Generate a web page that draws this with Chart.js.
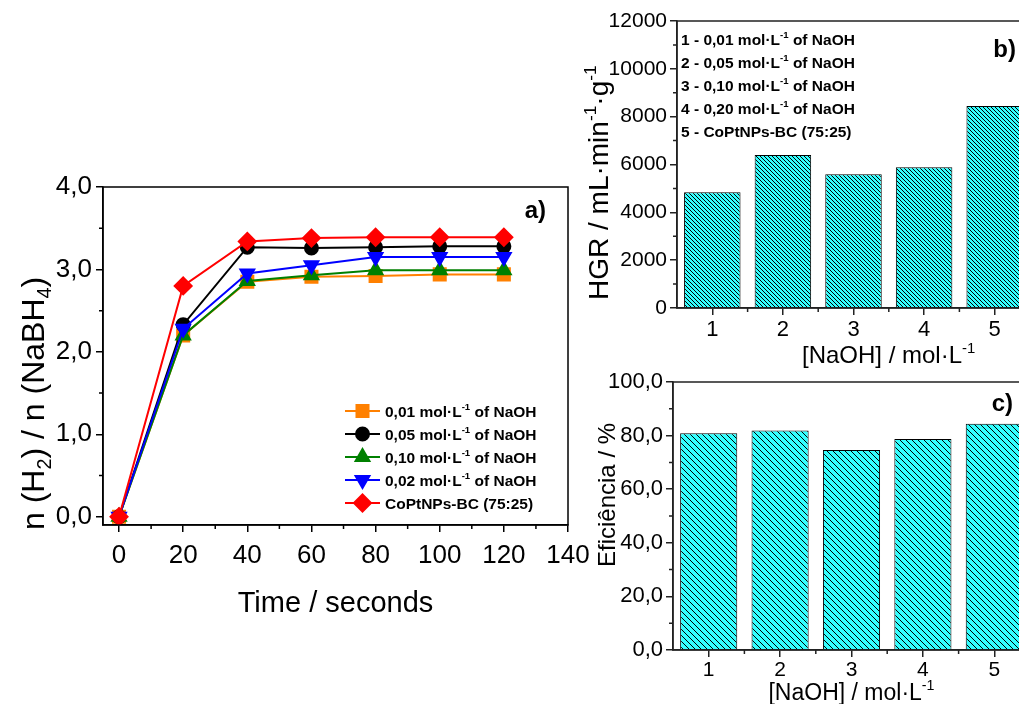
<!DOCTYPE html>
<html>
<head>
<meta charset="utf-8">
<title>NaOH / CoPtNPs-BC</title>
<script src="https://cdn.jsdelivr.net/npm/chart.js@4.4.1/dist/chart.umd.min.js"></script>
<style>
html, body { margin: 0; padding: 0; background: #fff; width: 1019px; height: 704px; overflow: hidden; }
canvas { position: absolute; }
</style>
</head>
<body>
<canvas id="ca" width="600" height="650" style="left:0;top:0"></canvas>
<canvas id="cb" width="460" height="372" style="left:580px;top:0"></canvas>
<canvas id="cc" width="460" height="344" style="left:580px;top:360px"></canvas>
<script>
// panel a - n(H2)/n(NaBH4) vs time
var times = [0, 20, 40, 60, 80, 100, 120];
var naoh001 = [0, 2.20, 2.85, 2.91, 2.92, 2.94, 2.94];
var naoh005 = [0, 2.33, 3.27, 3.26, 3.27, 3.28, 3.28];
var naoh010 = [0, 2.20, 2.86, 2.93, 2.99, 2.99, 2.99];
var naoh002 = [0, 2.28, 2.95, 3.05, 3.15, 3.15, 3.15];
var coptnps = [0, 2.80, 3.34, 3.38, 3.39, 3.39, 3.39];

// panels b and c
var catLabels = ['1', '2', '3', '4', '5'];
var hgr = [4840, 6400, 5590, 5880, 8450];
var eficiencia = [80.9, 81.9, 74.6, 78.7, 84.4];

var legendA = ['0,01 mol·L^{-1} of NaOH', '0,05 mol·L^{-1} of NaOH', '0,10 mol·L^{-1} of NaOH',
               '0,02 mol·L^{-1} of NaOH', 'CoPtNPs-BC (75:25)'];
var legendB = ['1 - 0,01 mol·L^{-1} of NaOH', '2 - 0,05 mol·L^{-1} of NaOH', '3 - 0,10 mol·L^{-1} of NaOH',
               '4 - 0,20 mol·L^{-1} of NaOH', '5 - CoPtNPs-BC (75:25)'];

var FONT = "'Liberation Sans', Arial, Helvetica, sans-serif";
Chart.defaults.font.family = FONT;
Chart.defaults.color = '#000';

function comma(v) { return v.toFixed(1).replace('.', ','); }

// text with _{sub} and ^{sup}
function parseRich(s) {
  var out = [], re = /([_^])\{([^}]*)\}/g, last = 0, m;
  while ((m = re.exec(s))) {
    if (m.index > last) out.push({t: s.slice(last, m.index), k: 0});
    out.push({t: m[2], k: m[1] == '_' ? 1 : -1});
    last = re.lastIndex;
  }
  if (last < s.length) out.push({t: s.slice(last), k: 0});
  return out;
}
function drawRich(ctx, str, x, y, size, weight, align, rot) {
  var segs = parseRich(str), w = 0;
  segs.forEach(function (s) {
    s.size = s.k ? size * 0.62 : size;
    ctx.font = weight + ' ' + s.size + 'px ' + FONT;
    s.w = ctx.measureText(s.t).width;
    w += s.w;
  });
  ctx.save();
  ctx.translate(x, y);
  if (rot) ctx.rotate(rot);
  ctx.fillStyle = '#000';
  ctx.textAlign = 'left';
  ctx.textBaseline = 'alphabetic';
  var cx = align == 'center' ? -w / 2 : (align == 'right' ? -w : 0);
  segs.forEach(function (s) {
    ctx.font = weight + ' ' + s.size + 'px ' + FONT;
    var dy = s.k == 1 ? size * 0.22 : (s.k == -1 ? -size * 0.42 : 0);
    ctx.fillText(s.t, cx, dy);
    cx += s.w;
  });
  ctx.restore();
}

function hatch(ctx, step, lw) {
  var c = document.createElement('canvas');
  c.width = step; c.height = step;
  var g = c.getContext('2d');
  g.fillStyle = '#33ffff';
  g.fillRect(0, 0, step, step);
  g.strokeStyle = '#000';
  g.lineWidth = lw;
  g.beginPath();
  g.moveTo(-1, -1); g.lineTo(step + 1, step + 1);
  g.moveTo(-1, step - 1); g.lineTo(1, step + 1);
  g.moveTo(step - 1, -1); g.lineTo(step + 1, 1);
  g.stroke();
  return ctx.createPattern(c, 'repeat');
}

// box around plot + short minor ticks
function framePlugin(color, xMinor, yMinor) {
  return {
    id: 'frame',
    afterDraw: function (chart) {
      var a = chart.chartArea, ctx = chart.ctx;
      ctx.save();
      ctx.strokeStyle = color;
      ctx.lineWidth = 1.5;
      ctx.strokeRect(a.left, a.top, a.right - a.left, a.bottom - a.top);
      ctx.beginPath();
      xMinor.forEach(function (v) {
        var p = chart.scales.x.getPixelForValue(v);
        ctx.moveTo(p, a.bottom); ctx.lineTo(p, a.bottom + 4);
      });
      yMinor.forEach(function (v) {
        var p = chart.scales.y.getPixelForValue(v);
        ctx.moveTo(a.left, p); ctx.lineTo(a.left - 4, p);
      });
      ctx.stroke();
      ctx.restore();
    }
  };
}
function textPlugin(fn) {
  return { id: 'texts', afterDraw: function (chart) { fn(chart.ctx, chart.chartArea, chart); } };
}

function axisStyle(color) {
  return {
    grid: { drawOnChartArea: false, drawTicks: true, tickLength: 7, color: color, lineWidth: 1.5, offset: false },
    border: { color: color, width: 1.5 }
  };
}

// ---------- a) ----------
var seriesA = [
  { data: naoh001, color: '#ff8000', style: 'rect', r: 8.5, rot: 0 },
  { data: naoh005, color: '#000000', style: 'circle', r: 6.5, rot: 0 },
  { data: naoh010, color: '#008000', style: 'triangle', r: 8, rot: 0 },
  { data: naoh002, color: '#0000ff', style: 'triangle', r: 8, rot: 180 },
  { data: coptnps, color: '#ff0000', style: 'rectRot', r: 8.5, rot: 0 }
];

var dsA = seriesA.map(function (s, i) {
  return {
    label: legendA[i],
    data: times.map(function (t, j) { return { x: t, y: s.data[j] }; }),
    borderColor: s.color,
    backgroundColor: s.color,
    pointBackgroundColor: s.color,
    pointBorderColor: s.color,
    pointStyle: s.style,
    pointRadius: s.r,
    pointRotation: s.rot,
    borderWidth: 2,
    order: 4 - i
  };
});

var axA = axisStyle('#000');
new Chart(document.getElementById('ca'), {
  type: 'line',
  data: { datasets: dsA },
  options: {
    responsive: false,
    animation: false,
    layout: { padding: { top: 187, right: 32, left: 0, bottom: 0 } },
    plugins: { legend: { display: false }, tooltip: { enabled: false } },
    scales: {
      x: {
        type: 'linear', min: -5, max: 140,
        grid: axA.grid, border: axA.border,
        ticks: { stepSize: 20, includeBounds: false, font: { size: 26 }, padding: 8, color: '#000',
                 callback: function (v) { return String(v); } },
        afterFit: function (s) { s.height = 125; }
      },
      y: {
        min: -0.1, max: 4.0,
        grid: axA.grid, border: axA.border,
        ticks: { stepSize: 1, includeBounds: false, font: { size: 26 }, padding: 4, color: '#000',
                 callback: function (v) { return comma(v); } },
        afterFit: function (s) { s.width = 103; }
      }
    }
  },
  plugins: [
    framePlugin('#000', [10, 30, 50, 70, 90, 110, 130], [0.5, 1.5, 2.5, 3.5]),
    textPlugin(function (ctx, a) {
      drawRich(ctx, 'Time / seconds', (a.left + a.right) / 2, a.bottom + 87, 29, 'normal', 'center');
      drawRich(ctx, 'n (H_{2}) / n (NaBH_{4})', 44, a.bottom + 5, 32, 'normal', 'left', -Math.PI / 2);
      drawRich(ctx, 'a)', a.right - 22, a.top + 31, 24, 'bold', 'right');
      seriesA.forEach(function (s, i) {
        var y = a.bottom - 22 - 23 * (4 - i), x0 = a.right - 223;
        ctx.save();
        ctx.strokeStyle = s.color; ctx.fillStyle = s.color; ctx.lineWidth = 2;
        ctx.beginPath(); ctx.moveTo(x0, y); ctx.lineTo(x0 + 35, y); ctx.stroke();
        Chart.helpers.drawPoint(ctx, { pointStyle: s.style, radius: s.r, rotation: s.rot, borderWidth: 1 }, x0 + 17.5, y);
        ctx.restore();
        drawRich(ctx, legendA[i], x0 + 40, y + 5.5, 15.5, 'bold', 'left');
      });
    })
  ]
});

// ---------- b) ----------
var axB = axisStyle('#222');
var ctxB = document.getElementById('cb').getContext('2d');
new Chart(ctxB, {
  type: 'bar',
  data: {
    labels: catLabels,
    datasets: [{ data: hgr, backgroundColor: hatch(ctxB, 4, 1), borderColor: '#000', borderWidth: 1,
                 barPercentage: 0.8, categoryPercentage: 1 }]
  },
  options: {
    responsive: false,
    animation: false,
    layout: { padding: { top: 21, right: 10, left: 0, bottom: 0 } },
    plugins: { legend: { display: false }, tooltip: { enabled: false } },
    scales: {
      x: {
        grid: axB.grid, border: axB.border,
        ticks: { font: { size: 22 }, padding: 2, color: '#000' },
        afterFit: function (s) { s.height = 64; }
      },
      y: {
        min: 0, max: 12000,
        grid: axB.grid, border: axB.border,
        ticks: { stepSize: 2000, font: { size: 21 }, padding: 3, color: '#000',
                 callback: function (v) { return String(v); } },
        afterFit: function (s) { s.width = 97; }
      }
    }
  },
  plugins: [
    framePlugin('#222', [0.5, 1.5, 2.5, 3.5], [1000, 3000, 5000, 7000, 9000, 11000]),
    textPlugin(function (ctx, a) {
      drawRich(ctx, 'HGR / mL·min^{-1}·g^{-1}', a.left - 69, a.bottom - 8, 28, 'normal', 'left', -Math.PI / 2);
      drawRich(ctx, '[NaOH] / mol·L^{-1}', a.left + 125, a.bottom + 55, 24, 'normal', 'left');
      drawRich(ctx, 'b)', a.right - 14, a.top + 36, 24, 'bold', 'right');
      legendB.forEach(function (t, i) {
        drawRich(ctx, t, a.left + 4, a.top + 23.5 + 23 * i, 15.5, 'bold', 'left');
      });
    })
  ]
});

// ---------- c) ----------
var axC = axisStyle('#222');
var ctxC = document.getElementById('cc').getContext('2d');
new Chart(ctxC, {
  type: 'bar',
  data: {
    labels: catLabels,
    datasets: [{ data: eficiencia, backgroundColor: hatch(ctxC, 6, 1), borderColor: '#000', borderWidth: 1,
                 barPercentage: 0.8, categoryPercentage: 1 }]
  },
  options: {
    responsive: false,
    animation: false,
    layout: { padding: { top: 22, right: 10, left: 0, bottom: 0 } },
    plugins: { legend: { display: false }, tooltip: { enabled: false } },
    scales: {
      x: {
        grid: axC.grid, border: axC.border,
        ticks: { font: { size: 21 }, padding: 1, color: '#000' },
        afterFit: function (s) { s.height = 54; }
      },
      y: {
        min: 0, max: 100,
        grid: axC.grid, border: axC.border,
        ticks: { stepSize: 20, font: { size: 22 }, padding: 3, color: '#000',
                 callback: function (v) { return comma(v); } },
        afterFit: function (s) { s.width = 93; }
      }
    }
  },
  plugins: [
    framePlugin('#222', [0.5, 1.5, 2.5, 3.5], [10, 30, 50, 70, 90]),
    textPlugin(function (ctx, a) {
      drawRich(ctx, 'Eficiência / %', a.left - 58, a.bottom - 83, 24, 'normal', 'left', -Math.PI / 2);
      drawRich(ctx, '[NaOH] / mol·L^{-1}', (a.left + a.right) / 2, a.bottom + 50, 23, 'normal', 'center');
      drawRich(ctx, 'c)', a.right - 17, a.top + 29, 24, 'bold', 'right');
    })
  ]
});
</script>
</body>
</html>
